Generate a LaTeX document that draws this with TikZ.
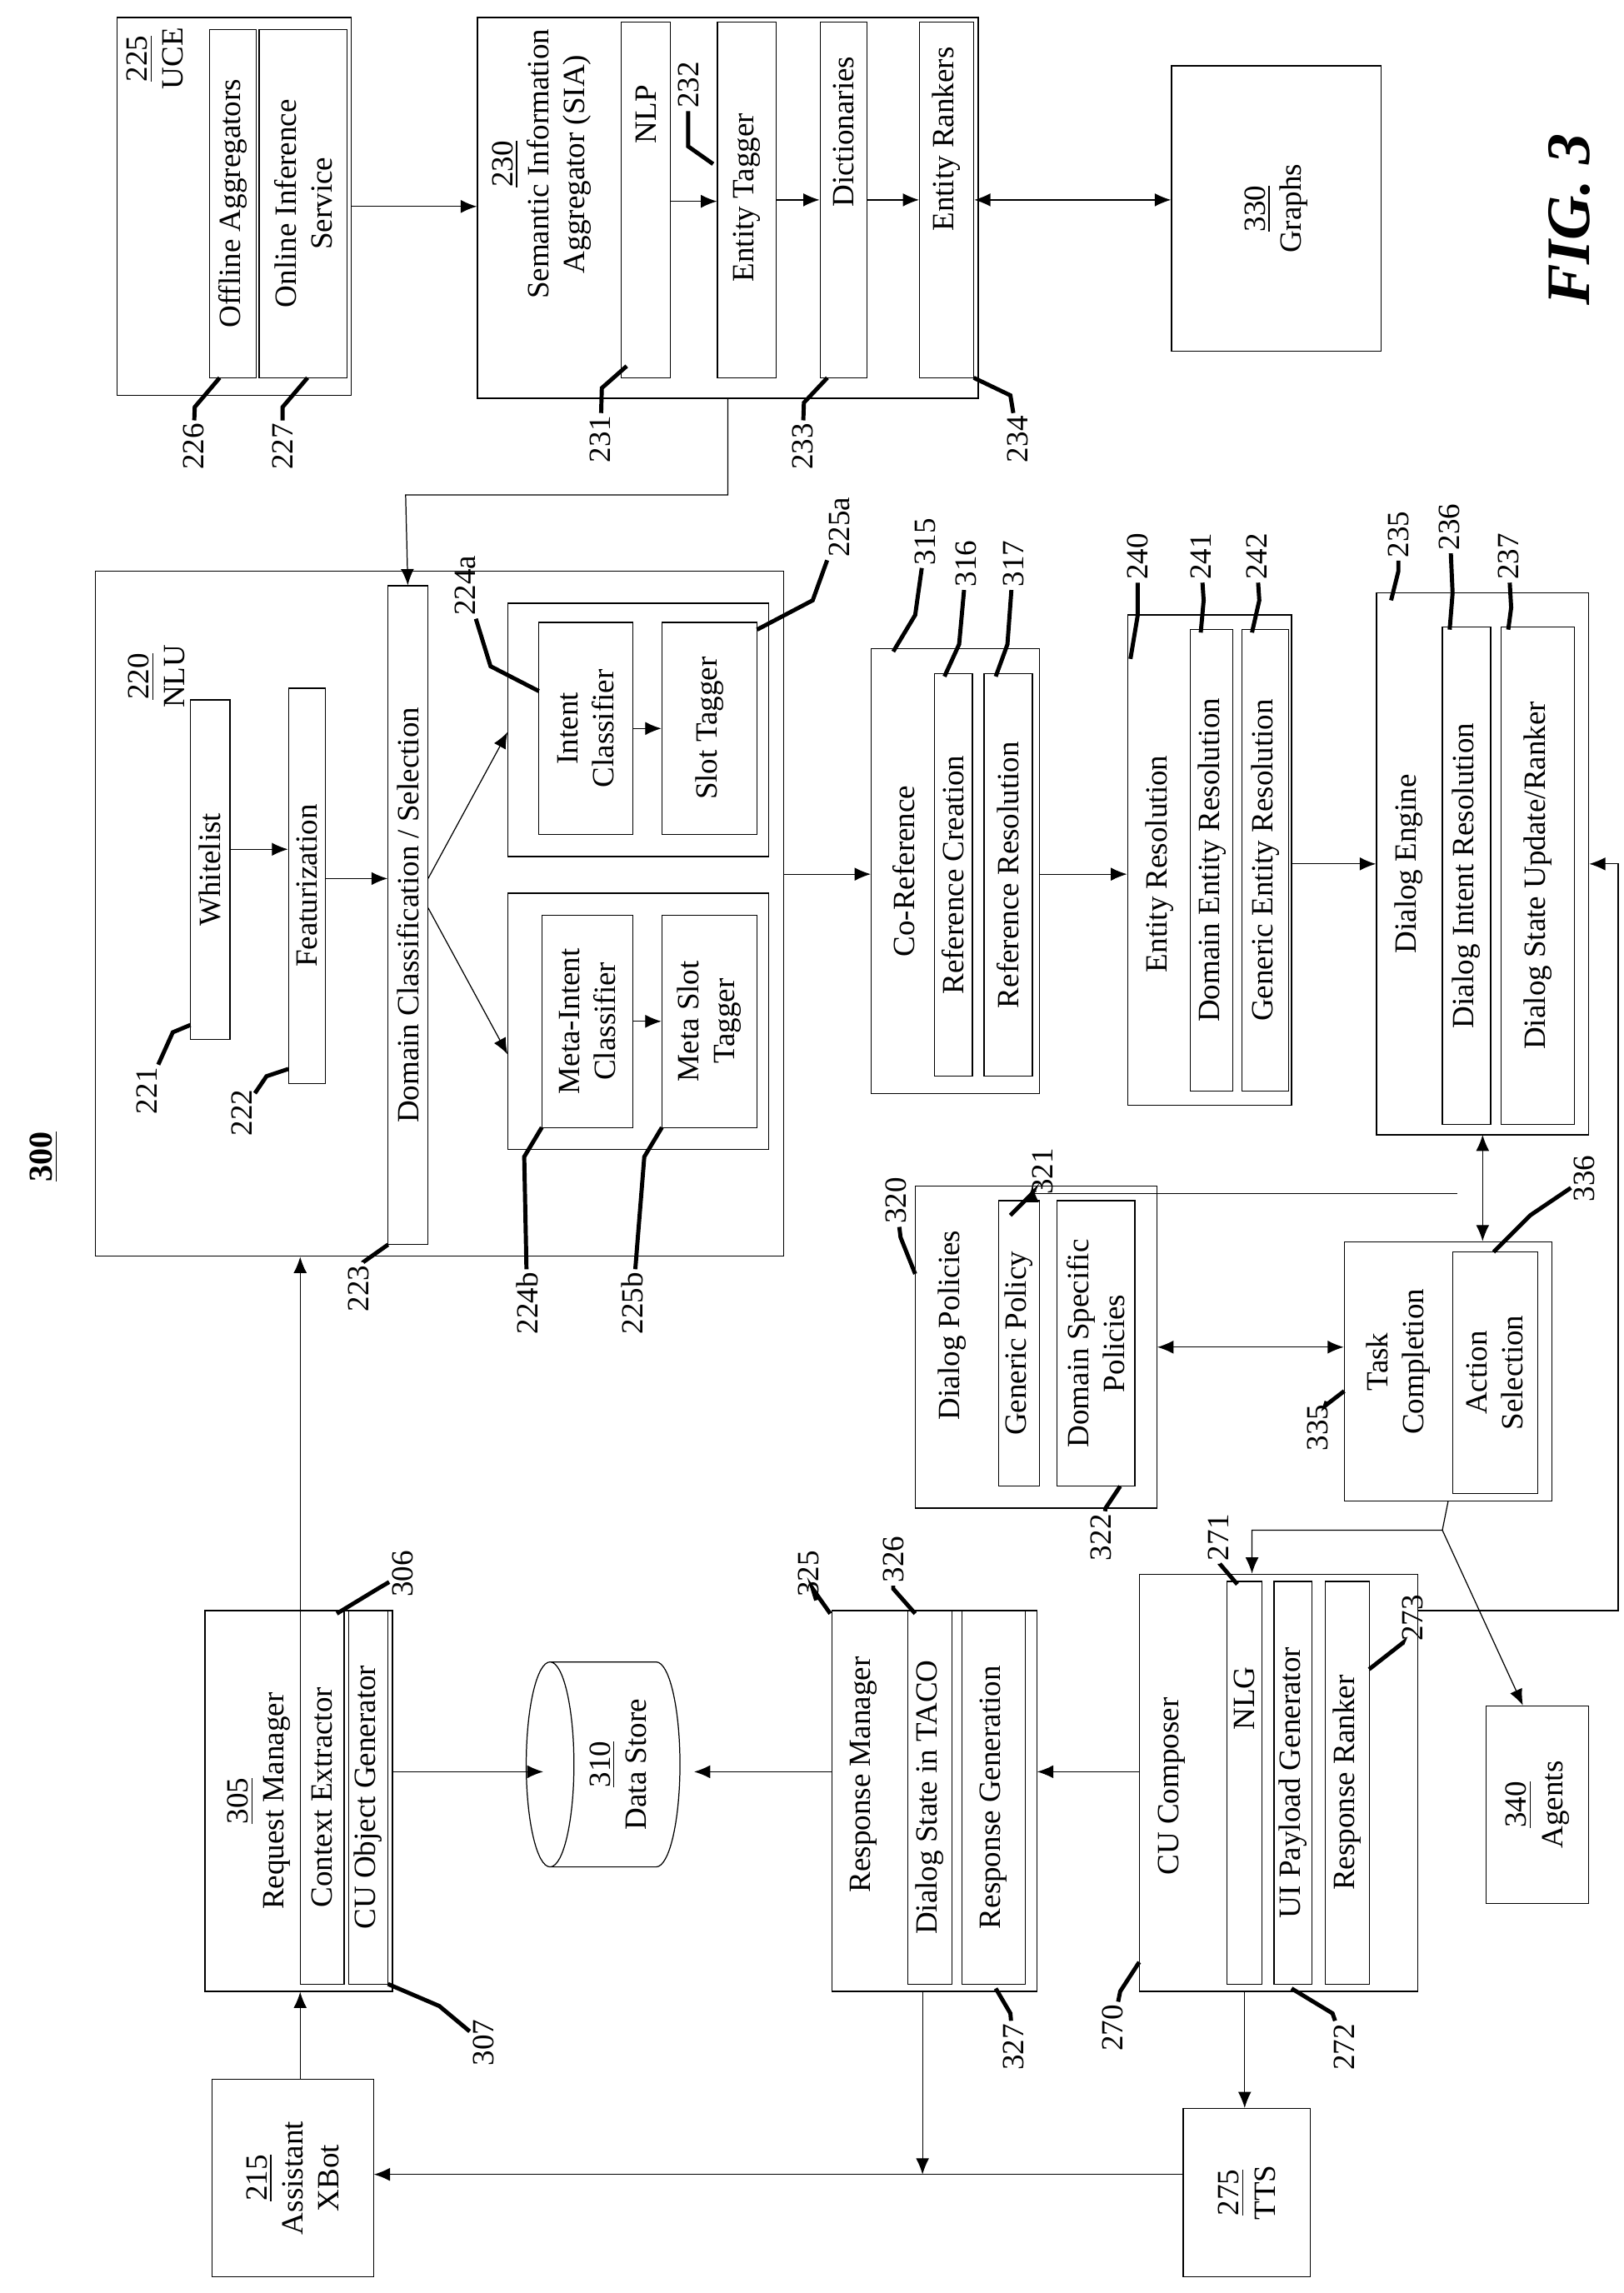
\documentclass[tikz,border=0pt]{standalone}
\usepackage{fontspec}
\setmainfont{Liberation Serif}
\usetikzlibrary{shapes.geometric,arrows.meta}
\tikzset{
  box/.style={draw, rectangle, rotate=90, inner sep=1pt, align=center},
  ttl/.style={rotate=90, align=center, inner sep=1pt},
  num/.style={rotate=90, inner sep=1pt},
  lead/.style={line width=1.6pt},
  arr/.style={-{Latex[length=2.2mm,width=1.8mm]}},
  darr/.style={{Latex[length=2.2mm,width=1.8mm]}-{Latex[length=2.2mm,width=1.8mm]}}
}
% box from (x1,y1) to (x2,y2) in picture pixels
\newcommand\bx[7][]{\node[box,minimum width={(#6-#4)*0.02cm},minimum height={(#5-#3)*0.02cm},#1] (#2) at ({(#3+#5)/2},{(#4+#6)/2}) {#7};}
\begin{document}
\begin{tikzpicture}[x=0.02cm,y=-0.02cm,font=\fontsize{12}{14}\selectfont]
\useasboundingbox (0,0) rectangle (1109,1566);

%Top row
\bx{UCE}{80}{12}{240}{270}{}
\node[ttl] (UCEt) at (106,40) {\underline{225}\\UCE};
\bx{Offline}{143}{20}{175}{258}{Offline Aggregators}
\bx{Online}{177}{20}{237}{258}{Online Inference\\Service}
\bx{SIA}{326}{12}{668}{272}{}
\node[ttl] (SIAt) at (370,112) {\underline{230}\\Semantic Information\\Aggregator (SIA)};
\bx{NLP}{424}{15}{458}{258}{}
\node[ttl] (NLPt) at (441,78) {NLP};
\bx{ETag}{490}{15}{530}{258}{}
\node[ttl] (ETagt) at (510,135) {Entity Tagger};
\bx{Dict}{560}{15}{592}{258}{}
\node[ttl] (Dictt) at (576,90) {Dictionaries};
\bx{ERank}{628}{15}{665}{258}{}
\node[ttl] (ERankt) at (646,95) {Entity Rankers};
\bx{Graphs}{800}{45}{943}{240}{\underline{330}\\Graphs}
\node[rotate=90, font=\fontsize{24}{26}\selectfont\bfseries\itshape] (fig) at (1072,150) {FIG. 3};
\node[num, font=\fontsize{13}{15}\selectfont\bfseries] (n300) at (30,790) {\underline{300}};

%NLU
\bx{NLU}{65}{390}{535}{858}{}
\node[ttl] (NLUt) at (107,462) {\underline{220}\\NLU};
\bx{White}{130}{478}{157}{710}{Whitelist}
\bx{Feat}{197}{470}{222}{740}{Featurization}
\bx{Domain}{265}{400}{292}{850}{Domain Classification / Selection}
\bx{GrpA}{347}{412}{525}{585}{}
\bx{Intent}{368}{425}{432}{570}{Intent\\Classifier}
\bx{Slot}{452}{425}{517}{570}{Slot Tagger}
\bx{GrpB}{347}{610}{525}{785}{}
\bx{MIntent}{370}{625}{432}{770}{Meta-Intent\\Classifier}
\bx{MSlot}{452}{625}{517}{770}{Meta Slot\\Tagger}

%Middle column
\bx{CoRef}{595}{443}{710}{747}{}
\node[ttl] (CoReft) at (617,595) {Co-Reference};
\bx{RCre}{638}{460}{664}{735}{Reference Creation}
\bx{RRes}{672}{460}{705}{735}{Reference Resolution}
\bx{ER}{770}{420}{882}{755}{}
\node[ttl] (ERt) at (792,590) {Entity Resolution};
\bx{DER}{813}{430}{842}{745}{Domain Entity Resolution}
\bx{GER}{848}{430}{880}{745}{Generic Entity Resolution}
\bx{DE}{940}{405}{1085}{775}{}
\node[ttl] (DEt) at (962,590) {Dialog Engine};
\bx{DIR}{985}{428}{1018}{768}{Dialog Intent Resolution}
\bx{DSU}{1025}{428}{1075}{768}{Dialog State Update/Ranker}
\bx{DP}{625}{810}{790}{1030}{}
\node[ttl] (DPt) at (650,905) {Dialog Policies};
\bx{GP}{682}{820}{710}{1015}{Generic Policy}
\bx{DSP}{722}{820}{775}{1015}{Domain Specific\\Policies}
\bx{TC}{918}{848}{1060}{1025}{}
\node[ttl] (TCt) at (955,930) {Task\\Completion};
\bx{AS}{992}{855}{1050}{1020}{Action\\Selection}

%Bottom row
\bx{ReqM}{140}{1100}{268}{1360}{}
\node[ttl] (ReqMt) at (177,1230) {\underline{305}\\Request Manager};
\bx{CtxE}{205}{1100}{235}{1355}{Context Extractor}
\bx{CUOG}{238}{1100}{265}{1355}{CU Object Generator}
\node[draw, cylinder, rotate=90, shape border rotate=90, aspect=0.35, minimum width=2.8cm, minimum height=2.1cm, align=center, inner sep=1pt] (DS) at (422,1205) {\underline{310}\\Data Store};
\coordinate (DSr) at (474,1210);
\coordinate (DSl) at (371,1210);
\bx{RespM}{568}{1100}{708}{1360}{}
\node[ttl] (RespMt) at (590,1212) {Response Manager};
\bx{DST}{620}{1100}{650}{1355}{Dialog State in TACO}
\bx{RGen}{657}{1100}{700}{1355}{Response Generation}
\bx{CUC}{778}{1075}{968}{1360}{}
\node[ttl] (CUCt) at (800,1220) {CU Composer};
\bx{NLG}{838}{1080}{862}{1355}{}
\node[ttl] (NLGt) at (850,1160) {NLG};
\bx{UIP}{870}{1080}{896}{1355}{UI Payload Generator}
\bx{RRank}{905}{1080}{935}{1355}{Response Ranker}
\bx{Agents}{1015}{1165}{1085}{1300}{\underline{340}\\Agents}
\bx{TTS}{808}{1440}{895}{1555}{\underline{275}\\TTS}
\bx{XBot}{145}{1420}{255}{1555}{\underline{215}\\Assistant\\XBot}

%Links
\draw[arr] (UCE.south) -- (UCE.south -| SIA.north);
\draw[arr] (NLP.south) ++(0,1) coordinate (a1) -- (a1 -| ETag.north);
\draw[arr] (ETag.south) -- (ETag.south -| Dict.north);
\draw[arr] (Dict.south) -- (Dict.south -| ERank.north);
\draw[darr] (ERank.south) -- (ERank.south -| Graphs.north);
\coordinate (s1) at (497,272);
\draw[arr] (s1) |- (277,338) -- (Domain.east);
\draw[arr] (White.south |- 0,580) coordinate (a2) -- (a2 -| Feat.north);
\draw[arr] (Feat.south |- 0,600) coordinate (a3) -- (a3 -| Domain.north);
\draw[arr] (Domain.south |- 0,600) -- (GrpA.north |- 0,500);
\draw[arr] (Domain.south |- 0,620) -- (GrpB.north |- 0,720);
\draw[arr] (Intent.south) -- (Slot.north);
\draw[arr] (MIntent.south) -- (MSlot.north);
\draw[arr] (NLU.south |- 0,597) coordinate (a4) -- (a4 -| CoRef.north);
\draw[arr] (CoRef.south |- 0,597) coordinate (a5) -- (a5 -| ER.north);
\draw[arr] (ER.south |- 0,590) coordinate (a6) -- (a6 -| DE.north);
\draw[darr] (DE.west |- 0,775) coordinate (a7) -- (a7 |- TC.east);
\coordinate (j1) at (995,815);
\draw[arr] (j1) -| (705,810);
\draw[darr] (DP.south |- 0,920) coordinate (a8) -- (a8 -| TC.north);
\coordinate (j2) at (985,1045);
\draw[arr] (TC.west |- 0,1025) -- (j2) -| (CUC.east -| 855,0);
\draw[arr] (j2) -- (Agents.east -| 1040,0);
\coordinate (j3) at (1105,1100);
\draw[arr] (CUC.south |- 0,1100) -- (j3) |- (DE.south |- 0,590);
\draw[arr] (CUC.north |- DSr) -- (RespM.south |- DSr);
\draw[arr] (RespM.north |- DSr) -- (DSr);
\draw[arr] (ReqM.south |- DSl) -- (DSl);
\draw[arr] (ReqM.east -| 205,0) -- (NLU.west -| 205,0);
\draw[arr] (XBot.east -| 205,0) -- (ReqM.west -| 205,0);
\draw[arr] (CUC.west -| 850,0) -- (TTS.east -| 850,0);
\draw[arr] (TTS.north |- 0,1485) -- (XBot.south |- 0,1485);
\draw[arr] (RespM.west -| 630,0) -- (630,1485);

%Reference numerals
\foreach \nm/\x/\y/\bx/\by/\cx/\cy in {
  226/132/305/150/258/133/278, 227/193/305/210/258/193/278,
  231/410/300/428/250/411/265, 233/548/305/565/258/549/275,
  234/695/300/665/258/690/270, 232/470/58/487/112/470/100,
  221/100/745/130/700/118/705, 222/165/760/197/730/182/735,
  223/245/880/265/850/248/862, 224a/318/400/368/472/335/455,
  224b/360/890/370/770/358/790, 225b/432/890/452/770/440/790,
  225a/573/360/517/430/555/410, 315/632/370/610/445/625/420,
  316/660/385/645/462/655/440, 317/692/385/680/462/688/440,
  240/777/380/772/450/777/420, 241/820/380/820/432/822/410,
  242/858/380/855/432/860/410, 235/955/365/950/410/955/390,
  236/990/360/990/430/992/405, 237/1030/380/1030/430/1032/415,
  321/712/800/690/830/705/815, 320/612/820/625/870/615/845,
  322/752/1050/765/1015/755/1030, 336/1082/805/1020/855/1045/830,
  335/900/975/918/950/905/960, 306/275/1075/230/1102/258/1085,
  307/330/1395/265/1355/300/1370, 325/552/1075/567/1102/555/1085,
  326/610/1065/625/1102/610/1085, 327/692/1398/680/1358/690/1375,
  271/832/1050/845/1082/833/1068, 270/760/1385/778/1340/765/1360,
  272/918/1398/882/1358/910/1375, 273/965/1105/935/1140/958/1122}
{
  \node[num] (l\nm) at (\x,\y) {\nm};
  \draw[lead] (\bx,\by) -- (\cx,\cy) -- (l\nm);
}
\end{tikzpicture}
\end{document}
